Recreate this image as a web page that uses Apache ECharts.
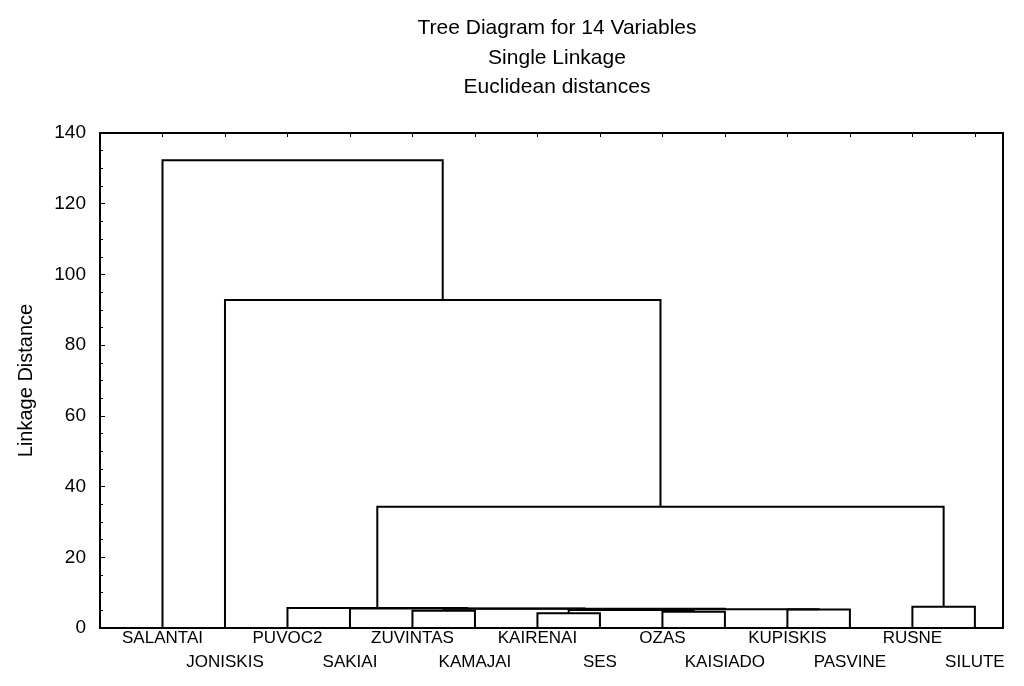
<!DOCTYPE html>
<html>
<head>
<meta charset="utf-8">
<script src="https://cdn.jsdelivr.net/npm/echarts@6/dist/echarts.min.js"></script>
<style>html,body{margin:0;padding:0;background:#fff;}#c{width:1024px;height:686px;}</style>
</head>
<body>
<div id="c"></div>
<script>
// Leaves in dendrogram order
var leaves = ['SALANTAI','JONISKIS','PUVOC2','SAKIAI','ZUVINTAS','KAMAJAI','KAIRENAI','SES','OZAS','KAISIADO','KUPISKIS','PASVINE','RUSNE','SILUTE'];
// Merges: [left child, right child, linkage distance]; children < 14 are leaves, >= 14 are earlier merges
var merges = [
  [6, 7, 4.2],
  [8, 9, 4.6],
  [4, 5, 4.85],
  [14, 15, 5.1],
  [10, 11, 5.2],
  [17, 18, 5.3],
  [16, 19, 5.45],
  [3, 20, 5.55],
  [2, 21, 5.65],
  [12, 13, 6.0],
  [22, 23, 34.3],
  [1, 24, 92.8],
  [0, 25, 132.3]
];
var yTicks = [0, 20, 40, 60, 80, 100, 120, 140];
var titleLines = ['Tree Diagram for 14 Variables', 'Single Linkage', 'Euclidean distances'];
var yName = 'Linkage Distance';

var n = leaves.length;
var pos = [], hgt = [];
for (var i = 0; i < n; i++) { pos.push(i + 1); hgt.push(0); }
var segs = [];
merges.forEach(function (m) {
  var a = m[0], b = m[1], h = m[2];
  segs.push([pos[a], hgt[a], pos[b], hgt[b], h]);
  pos.push((pos[a] + pos[b]) / 2);
  hgt.push(h);
});

var FONT = "'Liberation Sans', Arial, sans-serif";
var chart = echarts.init(document.getElementById('c'), null, {renderer: 'canvas'});
chart.setOption({
  animation: false,
  backgroundColor: '#fff',
  title: titleLines.map(function (t, k) {
    return {text: t, left: 552, top: 13 + k * 29.5, textAlign: 'center',
      textStyle: {fontFamily: FONT, fontSize: 21, fontWeight: 'normal', color: '#000'}};
  }),
  grid: {left: 100, right: 21, top: 133, bottom: 58, show: false},
  xAxis: [{
    type: 'value', min: 0, max: 14.45, interval: 1, position: 'bottom',
    axisLine: {show: true, onZero: false, lineStyle: {color: '#000', width: 2}},
    axisTick: {show: false},
    splitLine: {show: false},
    axisLabel: {
      showMaxLabel: false, showMinLabel: false, margin: -2,
      fontFamily: FONT, fontSize: 17, color: '#000', lineHeight: 24,
      formatter: function (v) {
        if (Math.abs(v - Math.round(v)) > 1e-6) return '';
        var i = Math.round(v) - 1;
        if (i < 0 || i >= n) return '';
        return (i % 2 === 1) ? '\n' + leaves[i] : leaves[i];
      }
    }
  }, {
    type: 'value', min: 0, max: 14.45, interval: 1, position: 'top',
    axisLine: {show: true, onZero: false, lineStyle: {color: '#000', width: 2}},
    axisTick: {show: true, inside: true, length: 4, lineStyle: {color: '#000', width: 1}},
    axisLabel: {show: false}, splitLine: {show: false}
  }],
  yAxis: [{
    type: 'value', min: 0, max: 140, interval: 20, position: 'left',
    name: yName, nameLocation: 'middle', nameGap: 64, nameRotate: 90,
    nameTextStyle: {fontFamily: FONT, fontSize: 20, color: '#000'},
    axisLine: {show: true, onZero: false, lineStyle: {color: '#000', width: 2}},
    axisTick: {show: true, inside: true, length: 5, lineStyle: {color: '#000', width: 1}},
    minorTick: {show: true, splitNumber: 4, length: 3, lineStyle: {color: '#000', width: 1}},
    splitLine: {show: false},
    axisLabel: {fontFamily: FONT, fontSize: 19, color: '#000', margin: 14,
      formatter: function (v) { return yTicks.indexOf(v) >= 0 ? String(v) : ''; }}
  }, {
    type: 'value', min: 0, max: 140, interval: 20, position: 'right',
    axisLine: {show: true, onZero: false, lineStyle: {color: '#000', width: 2}},
    axisTick: {show: false}, axisLabel: {show: false}, splitLine: {show: false}
  }],
  series: [{
    type: 'custom',
    xAxisIndex: 0, yAxisIndex: 0,
    data: segs,
    encode: {x: [0, 2], y: [1, 3, 4]},
    renderItem: function (params, api) {
      var p1 = api.coord([api.value(0), api.value(1)]);
      var p2 = api.coord([api.value(0), api.value(4)]);
      var p3 = api.coord([api.value(2), api.value(4)]);
      var p4 = api.coord([api.value(2), api.value(3)]);
      return {type: 'polyline', shape: {points: [p1, p2, p3, p4]},
        style: {stroke: '#000', lineWidth: 2, fill: null}};
    }
  }]
});
</script>
</body>
</html>
